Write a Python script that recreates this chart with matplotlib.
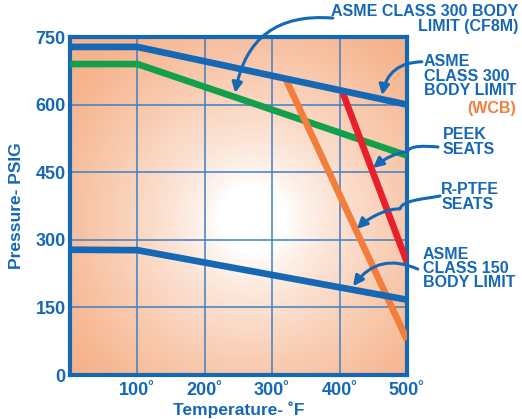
import numpy as np
import matplotlib.pyplot as plt
from matplotlib.patches import FancyArrowPatch
from matplotlib.path import Path

# pressure / temperature ratings
temp_cf8m = [0, 100, 500]
psi_cf8m = [728, 728, 600]

temp_peek = [0, 100, 500]
psi_peek = [690, 690, 487]

temp_wcb = [405, 500]
psi_wcb = [625, 250]

temp_ptfe = [320, 500]
psi_ptfe = [657, 78]

temp_150 = [0, 100, 500]
psi_150 = [278, 277, 167]

x_ticks = [100, 200, 300, 400, 500]
x_labels = ["100˚", "200˚", "300˚", "400˚", "500˚"]
y_ticks = [0, 150, 300, 450, 600, 750]

blue = "#1468b6"
plt.rcParams["font.family"] = ["Liberation Sans", "DejaVu Sans"]
plt.rcParams["font.weight"] = "bold"

fig = plt.figure(figsize=(5.22, 4.19), dpi=100)
ax = fig.add_axes([70 / 522, 1 - 375 / 419, 337 / 522, 338 / 419])
ax.set_xlim(0, 500)
ax.set_ylim(0, 750)


def px(x, y):
    # picture pixel -> data coords (for placing callouts)
    return ((x - 70) / 0.674, 750 - (y - 37) / 0.4507)


# background: white glow fading to peach
nx, ny = 337, 338
xx, yy = np.meshgrid(np.arange(nx), np.arange(ny))
d = np.hypot(xx - 182, (yy - 155) * 1.0)
t = np.clip((d - 35) / 190, 0, 1) ** 0.75
white = np.array([1.0, 1.0, 1.0])
peach = np.array([246, 178, 138]) / 255
img = white[None, None, :] * (1 - t[..., None]) + peach[None, None, :] * t[..., None]
ax.imshow(img, extent=[0, 500, 750, 0], aspect="auto", zorder=0)
ax.set_ylim(0, 750)

ax.set_xticks(x_ticks)
ax.set_xticklabels(x_labels)
ax.set_yticks(y_ticks)
ax.grid(True, color="#3f7fc2", linewidth=1.1, zorder=1)
ax.tick_params(axis="y", length=0, labelsize=13, colors=blue, pad=3)
ax.tick_params(axis="x", length=0, labelsize=13, colors=blue, pad=5)
for lab in ax.get_xticklabels() + ax.get_yticklabels():
    lab.set_fontweight("bold")
for s in ax.spines.values():
    s.set_color(blue)
    s.set_linewidth(3)

lw = 4.8
ax.plot(temp_cf8m, psi_cf8m, color=blue, lw=lw, zorder=4, solid_capstyle="butt")
ax.plot(temp_peek, psi_peek, color="#12a04c", lw=lw, zorder=3, solid_capstyle="butt")
ax.plot(temp_ptfe, psi_ptfe, color="#f27d3c", lw=lw, zorder=3, solid_capstyle="butt")
ax.plot(temp_wcb, psi_wcb, color="#e8202c", lw=lw, zorder=3, solid_capstyle="butt")
ax.plot(temp_150, psi_150, color=blue, lw=lw, zorder=4, solid_capstyle="butt")

ax.set_xlabel("Temperature- ˚F", fontsize=12.5, color=blue, fontweight="bold")
ax.xaxis.set_label_coords(0.5, -0.078)
ax.set_ylabel("Pressure- PSIG", fontsize=12.5, color=blue, fontweight="bold", labelpad=8)

tk = dict(color=blue, fontsize=11.5, fontweight="bold", linespacing=0.95, clip_on=False)
ax.text(665, 823, "ASME CLASS 300 BODY\nLIMIT (CF8M)", ha="right", va="top",
        multialignment="right", **tk)
ax.text(525, 712, "ASME\nCLASS 300\nBODY LIMIT", ha="left", va="top", **tk)
ax.text(662, 592, "(WCB)", ha="right", va="center", color="#f27d3c",
        fontsize=11.5, fontweight="bold", clip_on=False)
ax.text(553, 550, "PEEK\nSEATS", ha="left", va="top", **tk)
ax.text(551, 428, "R-PTFE\nSEATS", ha="left", va="top", **tk)
ax.text(523, 285, "ASME\nCLASS 150\nBODY LIMIT", ha="left", va="top", **tk)

head = "-|>,head_length=0.6,head_width=0.3"
arrow = dict(arrowstyle=head, color=blue, lw=2.2, shrinkA=0, shrinkB=0)
ax.annotate("", xy=(245, 626), xytext=(390, 792),
            arrowprops=dict(connectionstyle="arc3,rad=0.45", **arrow), annotation_clip=False)
ax.annotate("", xy=(463, 621), xytext=(522, 695),
            arrowprops=dict(connectionstyle="arc3,rad=0.4", **arrow), annotation_clip=False)
ax.annotate("", xy=(420, 197), xytext=(516, 235),
            arrowprops=dict(connectionstyle="arc3,rad=0.4", **arrow), annotation_clip=False)

# callouts with a little hook near the frame
C4 = Path.CURVE4
squiggles = [
    [(438, 147), (425, 146), (410, 145), (407, 152), (398, 152), (385, 158), (373, 168)],
    [(440, 196), (425, 199), (402, 200), (400, 209), (390, 208), (370, 216), (357, 229)],
]
for pts in squiggles:
    verts = [px(*p) for p in pts]
    codes = [Path.MOVETO] + [C4] * 6
    patch = FancyArrowPatch(path=Path(verts, codes), arrowstyle=head, color=blue,
                            lw=2.2, mutation_scale=10, clip_on=False, zorder=6)
    ax.add_patch(patch)

fig.savefig("out.png", dpi=100)
plt.close("all")
